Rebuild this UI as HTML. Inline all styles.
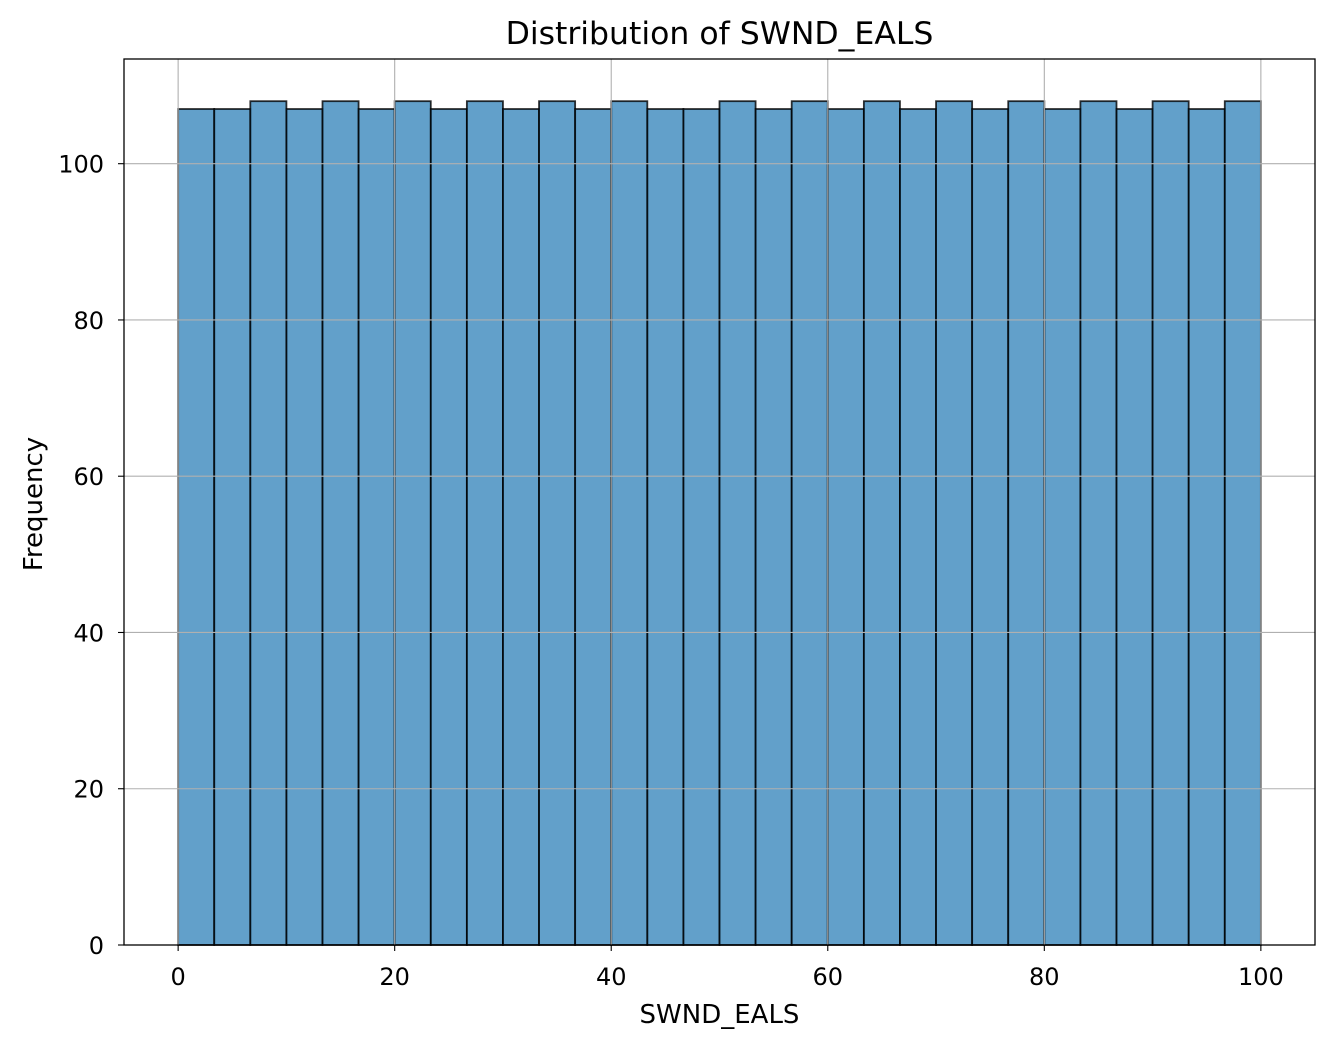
<!DOCTYPE html>
<html><head><meta charset="utf-8"><style>
body{margin:0;background:#fff;}
svg text{font-family:"DejaVu Sans","Liberation Sans",sans-serif;fill:#000;}
.tick{font-size:24px;}
</style></head><body>
<svg id="chart" width="1334" height="1046" xmlns="http://www.w3.org/2000/svg">
<rect width="1334" height="1046" fill="#fff"/>
<g id="grid"></g><g id="bars"></g><g id="grid2"></g><g id="axes"></g>
<text x="719.5" y="44" text-anchor="middle" style="font-size:31.5px">Distribution of SWND_EALS</text>
<text x="719.5" y="1023" text-anchor="middle" style="font-size:26px">SWND_EALS</text>
<text transform="translate(42,504) rotate(-90)" text-anchor="middle" style="font-size:26px">Frequency</text>
</svg>
<script>
const counts=[107,107,108,107,108,107,108,107,108,107,108,107,108,107,107,108,107,108,107,108,107,108,107,108,107,108,107,108,107,108];
const binStart=0, binEnd=100;
const xTicks=[0,20,40,60,80,100];
const yTicks=[0,20,40,60,80,100];
const L=124,R=1315,T=59,B=945;
const xMin=-5,xMax=105,yMax=113.4;
const sx=v=>L+(v-xMin)/(xMax-xMin)*(R-L);
const sy=v=>B-v/yMax*(B-T);
const NS="http://www.w3.org/2000/svg";
function mk(tag,attrs,parent){const e=document.createElementNS(NS,tag);for(const k in attrs)e.setAttribute(k,attrs[k]);parent.appendChild(e);return e;}
const grid=document.getElementById('grid2'),bars=document.getElementById('bars'),axes=document.getElementById('axes');
const w=(binEnd-binStart)/counts.length;
counts.forEach((c,i)=>{const x0=sx(binStart+i*w),x1=sx(binStart+(i+1)*w);
const r=mk('rect',{x:x0,y:sy(c),width:x1-x0,height:B-sy(c),fill:'rgba(31,119,180,0.7)',stroke:'rgba(0,0,0,0.8)','stroke-width':1.8},bars);

});
xTicks.forEach(t=>{const l=mk('line',{x1:sx(t),x2:sx(t),y1:T,y2:B,stroke:'#b0b0b0','stroke-width':1.1},grid);

});
yTicks.forEach(t=>{const l=mk('line',{x1:L,x2:R,y1:sy(t),y2:sy(t),stroke:'#b0b0b0','stroke-width':1.1},grid);

});
const fr=mk('rect',{x:L,y:T,width:R-L,height:B-T,fill:'none',stroke:'#000','stroke-width':1.3},axes);


xTicks.forEach(t=>{mk('line',{x1:sx(t),x2:sx(t),y1:B,y2:B+6,stroke:'#000','stroke-width':1.1},axes);
const tx=mk('text',{x:sx(t),y:B+40,'text-anchor':'middle','class':'tick'},axes);tx.textContent=t;

});
yTicks.forEach(t=>{mk('line',{x1:L-6,x2:L,y1:sy(t),y2:sy(t),stroke:'#000','stroke-width':1.1},axes);
const tx=mk('text',{x:L-20,y:sy(t)+9,'text-anchor':'end','class':'tick'},axes);tx.textContent=t;

});
</script>
</body></html>
